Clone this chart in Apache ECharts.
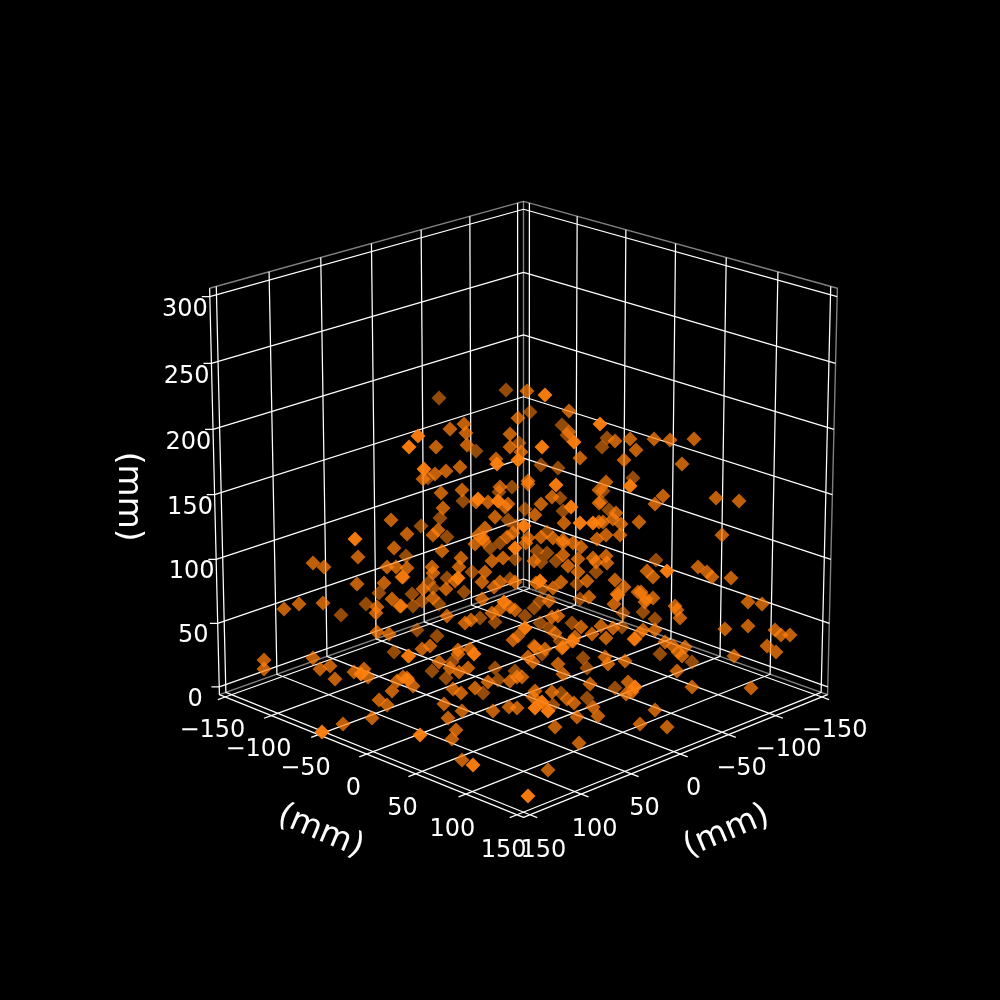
<!DOCTYPE html>
<html><head><meta charset="utf-8">
<style>html,body{margin:0;padding:0;background:#000}#c{width:1000px;height:1000px}</style>
<script src="https://cdn.jsdelivr.net/npm/echarts@6/dist/echarts.min.js"></script>
</head><body><div id="c"></div>
<script>
// tick values
const xyTicks = [-150,-100,-50,0,50,100,150];
const zTicks = [0,50,100,150,200,250,300];
const axisTitle = "(mm)";
// marker positions (horizontal, vertical), grouped by depth shade
const pointsDark = [[439,398],[506,390],[530,412],[562,425],[567,435],[476,451],[519,443],[541,465],[558,468],[428,478],[512,487],[499,492],[560,498],[463,501],[525,509],[563,511],[440,518],[508,520],[516,526],[421,526],[447,537],[607,438],[602,447],[633,478],[603,491],[601,502],[609,510],[656,560],[490,548],[500,543],[406,556],[515,559],[472,572],[447,578],[429,582],[433,588],[464,592],[412,594],[510,579],[422,601],[439,604],[413,606],[495,622],[480,618],[417,630],[437,636],[547,532],[537,551],[547,553],[556,561],[541,562],[596,572],[577,584],[543,588],[580,599],[540,601],[534,608],[623,613],[525,616],[572,623],[540,623],[622,627],[549,628],[560,641],[534,646],[379,593],[366,604],[341,615],[394,652],[452,662],[432,671],[495,668],[515,671],[446,678],[498,680],[483,693],[542,654],[583,658],[587,668],[615,688],[561,693],[553,705],[587,698],[643,612],[655,619],[640,633],[660,654],[692,662]];
const pointsMid = [[527,391],[569,411],[518,418],[464,424],[450,429],[569,432],[466,433],[510,434],[436,447],[467,445],[510,447],[580,458],[521,452],[496,459],[460,467],[446,471],[435,474],[423,479],[528,481],[528,484],[500,487],[462,490],[441,493],[599,490],[552,497],[476,502],[488,502],[508,504],[505,507],[541,504],[599,503],[443,508],[535,515],[495,517],[564,523],[599,522],[485,528],[438,530],[433,535],[407,534],[478,535],[513,533],[507,537],[541,537],[553,538],[528,538],[563,540],[483,538],[391,520],[394,548],[358,557],[313,563],[324,567],[387,567],[396,567],[615,441],[630,439],[654,439],[670,440],[694,439],[636,450],[624,460],[682,464],[606,482],[663,496],[655,504],[716,498],[739,501],[616,513],[613,519],[621,524],[603,522],[639,522],[606,535],[620,535],[722,535],[606,556],[607,563],[647,571],[653,577],[698,567],[707,572],[712,577],[731,578],[615,580],[624,587],[641,592],[617,594],[653,598],[646,599],[748,602],[762,604],[475,544],[484,541],[442,551],[461,558],[407,568],[492,561],[503,558],[432,567],[433,573],[459,567],[403,577],[485,572],[455,581],[482,582],[446,589],[423,589],[500,582],[494,587],[515,582],[433,598],[401,606],[482,599],[510,607],[515,610],[499,610],[492,613],[471,620],[465,623],[447,616],[513,640],[518,636],[430,646],[422,649],[458,650],[470,649],[526,543],[563,543],[581,547],[573,543],[597,539],[563,555],[534,561],[578,559],[593,558],[596,562],[568,566],[578,572],[587,581],[536,583],[561,582],[553,588],[638,592],[618,595],[589,597],[549,601],[614,604],[552,617],[558,616],[601,626],[581,627],[613,628],[555,633],[592,634],[575,637],[606,638],[634,639],[573,641],[563,647],[545,649],[357,584],[384,583],[402,577],[392,599],[400,606],[377,607],[376,613],[299,604],[284,609],[323,603],[377,632],[389,634],[408,656],[313,658],[264,660],[264,669],[330,666],[320,669],[335,679],[354,672],[364,669],[368,677],[397,681],[403,677],[408,680],[392,691],[379,700],[387,705],[372,718],[343,724],[409,656],[439,662],[450,668],[459,672],[468,668],[458,654],[488,682],[510,681],[517,677],[407,678],[413,686],[475,688],[453,689],[461,693],[444,704],[462,711],[493,711],[509,707],[517,708],[448,718],[456,730],[452,739],[462,760],[535,647],[528,657],[562,648],[572,641],[605,657],[608,664],[625,661],[558,664],[563,674],[522,677],[533,662],[590,684],[628,682],[635,687],[632,692],[626,694],[535,691],[552,692],[567,699],[574,703],[533,697],[593,707],[598,716],[577,717],[555,727],[579,743],[548,770],[645,602],[675,606],[677,610],[680,618],[725,629],[748,626],[775,630],[781,635],[790,635],[767,646],[776,652],[643,630],[655,630],[635,639],[665,642],[673,646],[678,652],[682,656],[685,647],[734,656],[677,671],[692,687],[751,688],[635,687],[655,710],[640,724],[667,727]];
const pointsBright = [[545,395],[600,424],[418,436],[409,447],[542,447],[574,442],[518,460],[497,464],[424,469],[556,485],[478,499],[498,501],[571,507],[580,523],[593,523],[524,526],[355,539],[630,486],[667,571],[515,548],[458,578],[504,602],[540,581],[525,628],[361,674],[474,654],[542,702],[528,796],[473,765],[420,735],[322,732],[548,711],[535,708]];

// perspective view of the 3D box (matplotlib-style camera)
const L = 156.25, zLo = -6.25, zHi = 306.25;
const elev = 19.7*Math.PI/180, D = 21, S = 4587, cx = 523.5, cy = 494.7, zScale = 0.988;
function project(x,y,z){
  const nx=x/L, ny=y/L, nz=zScale*(z-150)/L;
  const h=(nx+ny)*Math.SQRT1_2, u=(ny-nx)*Math.SQRT1_2;
  const v=nz*Math.cos(elev)-h*Math.sin(elev);
  const w=h*Math.cos(elev)+nz*Math.sin(elev);
  const k=S/(D-w);
  return [cx+u*k, cy-v*k];
}
const series=[];
function poly(pts,color,width,z){
  series.push({type:'line',data:pts.map(p=>project(p[0],p[1],p[2])),symbol:'none',silent:true,animation:false,clip:false,z:z,
    lineStyle:{color:color,width:width}});
}
const GRID='rgba(255,255,255,1)', EDGE='rgba(255,255,255,0.5)';
// panes
poly([[L,-L,zHi],[-L,-L,zHi],[-L,L,zHi],[-L,L,zLo],[-L,-L,zLo],[L,-L,zLo]],EDGE,1.4,1);
poly([[-L,-L,zLo],[-L,-L,zHi]],EDGE,1.4,1);
// grid + ticks
xyTicks.forEach(t=>{
  poly([[t,L+7,zLo],[t,L,zLo],[t,-L,zLo],[t,-L,zHi]],GRID,1.25,2);
  poly([[L+7,t,zLo],[L,t,zLo],[-L,t,zLo],[-L,t,zHi]],GRID,1.25,2);
});
zTicks.forEach(t=>{
  poly([[L+4,-L-4,t],[L,-L,t],[-L,-L,t],[-L,L,t]],GRID,1.25,2);
});
// axis lines
poly([[L,-L,zHi],[L,-L,zLo],[L,L,zLo],[-L,L,zLo]],GRID,1.25,2);

// tick labels and axis titles
function labels(rows,size,rot){
  series.push({type:'scatter',symbolSize:0,silent:true,animation:false,z:3,clip:false,itemStyle:{opacity:1},
    data:rows.map(r=>({value:project(r[0],r[1],r[2]),name:r[3]})),
    label:{show:true,opacity:1,position:'inside',formatter:p=>p.name,color:'#fff',fontFamily:'DejaVu Sans',fontSize:size,rotate:rot||0,align:'center',verticalAlign:'middle'},
    labelLayout:{hideOverlap:false}});
}
const fmt=t=>String(t).replace('-','\u2212');
labels(xyTicks.map(t=>[t,L+13,zLo-23,fmt(t)]),24);
labels(xyTicks.map(t=>[L+13,t,zLo-23,fmt(t)]),24);
labels(zTicks.map(t=>[L+12.6,-L-12.6,t-10,fmt(t)]),24);
labels([[0,L+45,zLo-46,axisTitle]],33,23);
labels([[L+45,0,zLo-46,axisTitle]],33,-23);
labels([[L+44,-L-44,148.5,axisTitle]],33,-90);

// markers
[[pointsDark,0.58],[pointsMid,0.75],[pointsBright,0.95]].forEach(g=>{
  series.push({type:'scatter',data:g[0],symbol:'diamond',symbolSize:15,silent:true,animation:false,z:4,
    itemStyle:{color:'#ff7f0e',opacity:g[1]}});
});

const chart=echarts.init(document.getElementById('c'),null,{renderer:'canvas'});
chart.setOption({backgroundColor:'#000',animation:false,
  grid:{left:0,right:0,top:0,bottom:0},
  xAxis:{type:'value',min:0,max:1000,show:false},
  yAxis:{type:'value',min:0,max:1000,inverse:true,show:false},
  series:series});
</script></body></html>
